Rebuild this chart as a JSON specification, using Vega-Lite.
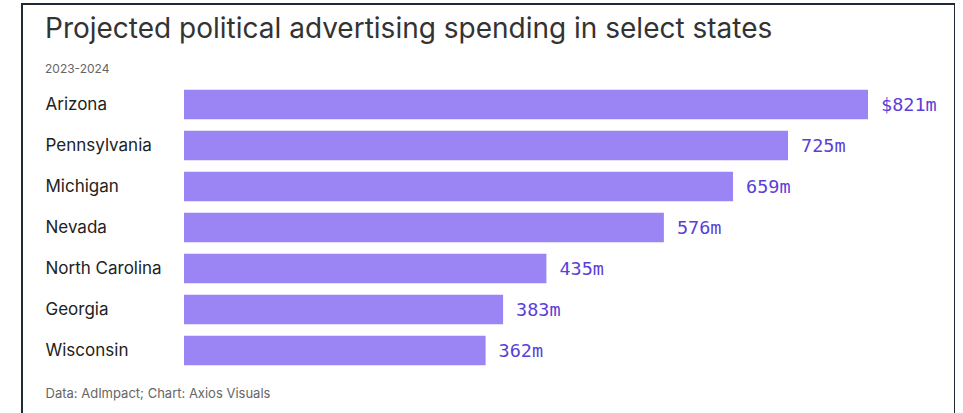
{
  "$schema": "https://vega.github.io/schema/vega-lite/v6.json",
  "autosize": {"type": "none"},
  "padding": {"left": 22, "top": 4, "right": 0, "bottom": 0},
  "width": 933,
  "height": 410,
  "background": "white",
  "title": {
    "text": "Projected political advertising spending in select states",
    "subtitle": "2023-2024",
    "anchor": "start",
    "frame": "group",
    "orient": "top",
    "offset": -71,
    "dx": 23,
    "font": "Inter",
    "fontSize": 28,
    "fontWeight": 400,
    "color": "#333333",
    "subtitleFont": "Inter",
    "subtitleFontSize": 12,
    "subtitleColor": "#666666",
    "subtitlePadding": 20
  },
  "data": {
    "values": [
      {"state": "Arizona", "spend": 821, "label": "$821m"},
      {"state": "Pennsylvania", "spend": 725, "label": "725m"},
      {"state": "Michigan", "spend": 659, "label": "659m"},
      {"state": "Nevada", "spend": 576, "label": "576m"},
      {"state": "North Carolina", "spend": 435, "label": "435m"},
      {"state": "Georgia", "spend": 383, "label": "383m"},
      {"state": "Wisconsin", "spend": 362, "label": "362m"}
    ]
  },
  "encoding": {
    "y": {
      "field": "state",
      "type": "nominal",
      "sort": null,
      "scale": {"range": [80, 367], "paddingInner": 0.28, "paddingOuter": 0.14},
      "axis": {
        "title": null,
        "orient": "left",
        "offset": -23,
        "ticks": false,
        "domain": false,
        "labelAlign": "left",
        "labelPadding": 0,
        "labelFont": "Inter",
        "labelFontSize": 17,
        "labelColor": "#222222"
      }
    },
    "x": {
      "field": "spend",
      "type": "quantitative",
      "scale": {"domain": [0, 821], "range": [162, 846], "nice": false, "zero": true},
      "axis": {
        "title": "Data: AdImpact; Chart: Axios Visuals",
        "orient": "bottom",
        "labels": false,
        "ticks": false,
        "domain": false,
        "grid": false,
        "titleAnchor": "start",
        "titleAlign": "left",
        "titleX": 23,
        "titleY": -17,
        "titleBaseline": "alphabetic",
        "titleFont": "Inter",
        "titleFontSize": 13,
        "titleFontWeight": 400,
        "titleColor": "#666666"
      }
    }
  },
  "layer": [
    {"mark": {"type": "bar", "color": "#9b85f5"}},
    {
      "mark": {
        "type": "text",
        "align": "left",
        "baseline": "middle",
        "dx": 13,
        "font": "DejaVu Sans Mono",
        "fontSize": 18.5,
        "color": "#5a3fd8"
      },
      "encoding": {"text": {"field": "label"}}
    }
  ],
  "config": {
    "view": {"stroke": "#1e2a36", "strokeWidth": 2}
  }
}
